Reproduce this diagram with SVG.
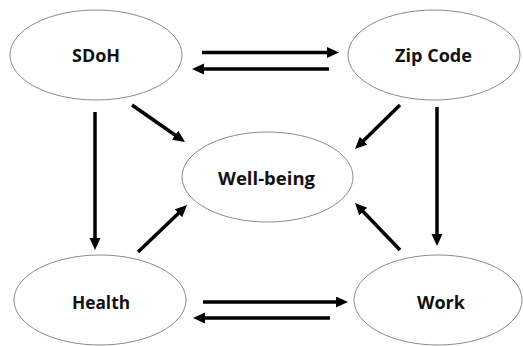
<svg xmlns="http://www.w3.org/2000/svg" width="523" height="346" viewBox="0 0 523 346">
<style>
.node ellipse{fill:#fff;stroke:#8a8a8a;stroke-width:1}
.node text{font-family:"Open Sans","Liberation Sans",sans-serif;font-weight:bold;font-size:17px;fill:#111;text-anchor:middle}
#connectors line{stroke:#000;stroke-width:3.5;marker-end:url(#ah)}
</style>
<defs>
<marker id="ah" markerUnits="userSpaceOnUse" markerWidth="14" markerHeight="12" refX="2" refY="5.5" orient="auto">
<path d="M0,0 L12,5.5 L0,11 z" fill="#000"/>
</marker>
</defs>
<rect width="523" height="346" fill="#fff"/>
<g id="sdoh" class="node"><ellipse cx="96" cy="55" rx="86" ry="45"/><text x="96" y="62" textLength="48" lengthAdjust="spacingAndGlyphs">SDoH</text></g>
<g id="zipcode" class="node"><ellipse cx="434" cy="55" rx="86" ry="45"/><text x="433.5" y="62" textLength="77" lengthAdjust="spacingAndGlyphs">Zip Code</text></g>
<g id="wellbeing" class="node"><ellipse cx="267.5" cy="177" rx="85.5" ry="45"/><text x="266.5" y="184.5" textLength="97" lengthAdjust="spacingAndGlyphs">Well-being</text></g>
<g id="health" class="node"><ellipse cx="100" cy="300" rx="86" ry="45"/><text x="101" y="308.5" textLength="58" lengthAdjust="spacingAndGlyphs">Health</text></g>
<g id="work" class="node"><ellipse cx="438" cy="300" rx="84" ry="45"/><text x="441" y="308.5" textLength="48" lengthAdjust="spacingAndGlyphs">Work</text></g>
<g id="connectors">
<line x1="202" y1="52.5" x2="329" y2="52.5"/>
<line x1="329" y1="69" x2="202" y2="69"/>
<line x1="203" y1="302" x2="338" y2="302"/>
<line x1="330" y1="318" x2="203" y2="318"/>
<line x1="95" y1="112" x2="95" y2="240"/>
<line x1="437" y1="107" x2="437" y2="236"/>
<line x1="132" y1="105" x2="176.8" y2="136.3"/>
<line x1="138" y1="252" x2="179.8" y2="211.9"/>
<line x1="400" y1="105" x2="362.2" y2="142"/>
<line x1="400" y1="250" x2="361.9" y2="210.2"/>
</g>
</svg>
